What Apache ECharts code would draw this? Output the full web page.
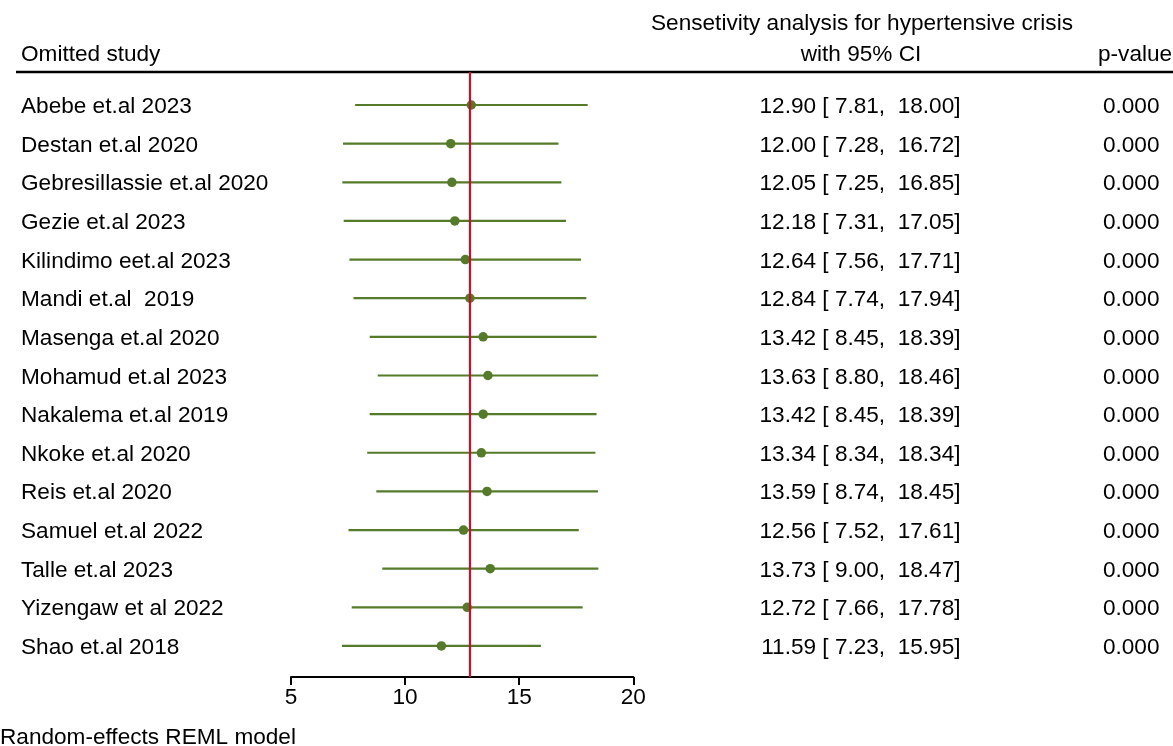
<!DOCTYPE html>
<html>
<head>
<meta charset="utf-8">
<title>Sensitivity analysis forest plot</title>
<script src="https://cdn.jsdelivr.net/npm/echarts@6/dist/echarts.min.js"></script>
<style>
  html, body { margin: 0; padding: 0; background: #fff; }
</style>
</head>
<body>
<!-- CHART: leave-one-out sensitivity analysis, hypertensive crisis -->
<div id="forest" style="width:1173px; height:746px"></div>
<script>
var studies = [
  'Abebe et.al 2023',
  'Destan et.al 2020',
  'Gebresillassie et.al 2020',
  'Gezie et.al 2023',
  'Kilindimo eet.al 2023',
  'Mandi et.al  2019',
  'Masenga et.al 2020',
  'Mohamud et.al 2023',
  'Nakalema et.al 2019',
  'Nkoke et.al 2020',
  'Reis et.al 2020',
  'Samuel et.al 2022',
  'Talle et.al 2023',
  'Yizengaw et al 2022',
  'Shao et.al 2018'
];
var est   = [12.90, 12.00, 12.05, 12.18, 12.64, 12.84, 13.42, 13.63, 13.42, 13.34, 13.59, 12.56, 13.73, 12.72, 11.59];
var lower = [7.81, 7.28, 7.25, 7.31, 7.56, 7.74, 8.45, 8.80, 8.45, 8.34, 8.74, 7.52, 9.00, 7.66, 7.23];
var upper = [18.00, 16.72, 16.85, 17.05, 17.71, 17.94, 18.39, 18.46, 18.39, 18.34, 18.45, 17.61, 18.47, 17.78, 15.95];
var pvalues = ['0.000', '0.000', '0.000', '0.000', '0.000', '0.000', '0.000', '0.000',
               '0.000', '0.000', '0.000', '0.000', '0.000', '0.000', '0.000'];
var overall = 12.82;
var xTicks = [5, 10, 15, 20];

var FONT = '"Liberation Sans", Arial, sans-serif';
var FS = 22.6;
var GREEN = '#557a2a';
var RED = '#c8102e';

var chart = echarts.init(document.getElementById('forest'));

// CI text like "12.90 [ 7.81,  18.00]"
var ciText = est.map(function (e, i) {
  return e.toFixed(2) + ' [' + lower[i].toFixed(2).padStart(5, ' ') + ', ' +
         upper[i].toFixed(2).padStart(6, ' ') + ']';
});

var points = est.map(function (e, i) { return [e, i]; });
var bars = est.map(function (e, i) { return [lower[i], upper[i], i]; });

var option = {
  animation: false,
  textStyle: { fontFamily: FONT },
  grid: [
    // plot area
    { left: 291, width: 342.3, top: 72, height: 605 },
    // text columns (rows aligned with plot)
    { left: 21, right: 212.5, top: 87.5, height: 579.6 }
  ],
  xAxis: [
    {
      gridIndex: 0,
      type: 'value',
      position: 'bottom',
      min: xTicks[0],
      max: xTicks[xTicks.length - 1],
      interval: 5,
      axisLine: { show: true, onZero: false, lineStyle: { color: '#000', width: 2 } },
      axisTick: { show: true, inside: false, length: 8, lineStyle: { color: '#000', width: 2 } },
      axisLabel: { color: '#000', fontSize: FS, fontFamily: FONT, margin: 9 },
      splitLine: { show: false }
    },
    { gridIndex: 1, type: 'value', show: false }
  ],
  yAxis: [
    {
      gridIndex: 0,
      type: 'value',
      inverse: true,
      min: -0.854,
      max: 14.803,
      show: false
    },
    {
      gridIndex: 1,
      type: 'category',
      inverse: true,
      data: studies,
      position: 'left',
      axisLine: { show: false },
      axisTick: { show: false },
      axisLabel: { color: '#000', fontSize: FS, fontFamily: FONT, align: 'left', margin: 0 }
    },
    {
      gridIndex: 1,
      type: 'category',
      inverse: true,
      data: ciText,
      position: 'right',
      offset: 0,
      axisLine: { show: false },
      axisTick: { show: false },
      axisLabel: { color: '#000', fontSize: FS, fontFamily: FONT, align: 'right', margin: 0 }
    },
    {
      gridIndex: 1,
      type: 'category',
      inverse: true,
      data: pvalues,
      position: 'right',
      offset: 199,
      axisLine: { show: false },
      axisTick: { show: false },
      axisLabel: { color: '#000', fontSize: FS, fontFamily: FONT, align: 'right', margin: 0 }
    }
  ],
  graphic: [
    { type: 'text', x: 21, y: 55, style: { text: 'Omitted study', font: FS + 'px ' + FONT, fill: '#000', align: 'left', verticalAlign: 'middle' } },
    { type: 'text', x: 862, y: 24, style: { text: 'Sensetivity analysis for hypertensive crisis', font: FS + 'px ' + FONT, fill: '#000', align: 'center', verticalAlign: 'middle' } },
    { type: 'text', x: 861, y: 55, style: { text: 'with 95% CI', font: FS + 'px ' + FONT, fill: '#000', align: 'center', verticalAlign: 'middle' } },
    { type: 'text', x: 1098, y: 55, style: { text: 'p-value', font: FS + 'px ' + FONT, fill: '#000', align: 'left', verticalAlign: 'middle' } },
    { type: 'line', shape: { x1: 16, y1: 72, x2: 1173, y2: 72 }, style: { stroke: '#000', lineWidth: 2.5 } },
    { type: 'text', x: 0, y: 738, style: { text: 'Random-effects REML model', font: FS + 'px ' + FONT, fill: '#000', align: 'left', verticalAlign: 'middle' } }
  ],
  series: [
    {
      type: 'custom',
      xAxisIndex: 0,
      yAxisIndex: 0,
      data: bars,
      renderItem: function (params, api) {
        var a = api.coord([api.value(0), api.value(2)]);
        var b = api.coord([api.value(1), api.value(2)]);
        return {
          type: 'line',
          shape: { x1: a[0], y1: a[1], x2: b[0], y2: b[1] },
          style: { stroke: GREEN, lineWidth: 2.2 }
        };
      },
      z: 2,
      markLine: {
        silent: true,
        symbol: 'none',
        label: { show: false },
        lineStyle: { color: RED, width: 2.2, type: 'solid' },
        data: [{ xAxis: overall }]
      }
    },
    {
      type: 'scatter',
      xAxisIndex: 0,
      yAxisIndex: 0,
      data: points,
      symbol: 'circle',
      symbolSize: 9.5,
      itemStyle: { color: GREEN, opacity: 1 },
      z: 4
    }
  ]
};

chart.setOption(option);
</script>
</body>
</html>
